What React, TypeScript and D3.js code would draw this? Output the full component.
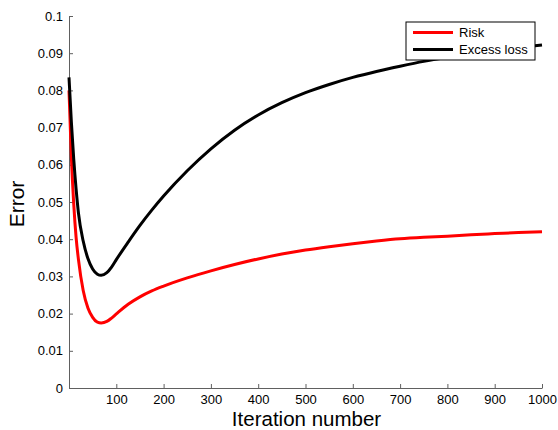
import React, { useEffect, useRef } from 'react';
import * as d3 from 'd3';

// iteration numbers and error values
const riskIters = [0, 5, 10, 15, 20, 30, 40, 50, 60, 68, 80, 90, 100, 125, 150, 175, 200, 250, 300, 350, 400, 450, 500, 550, 600, 650, 700, 750, 800, 850, 900, 950, 1000];
const riskValues = [0.08, 0.062, 0.0495, 0.0405, 0.0345, 0.0262, 0.0215, 0.019, 0.0177, 0.0175, 0.0179, 0.0188, 0.0199, 0.0225, 0.0245, 0.0261, 0.0274, 0.0296, 0.0315, 0.0332, 0.0347, 0.036, 0.0371, 0.038, 0.0388, 0.0395, 0.0401, 0.0405, 0.0408, 0.0412, 0.0415, 0.0418, 0.042];

const lossIters = [0, 5, 10, 15, 20, 30, 40, 50, 60, 68, 80, 90, 100, 125, 150, 175, 200, 250, 300, 350, 400, 450, 500, 550, 600, 650, 700, 750, 800, 850, 900, 950, 1000];
const lossValues = [0.0835, 0.0715, 0.0615, 0.0535, 0.047, 0.0395, 0.0348, 0.032, 0.0306, 0.0303, 0.031, 0.0325, 0.0345, 0.0392, 0.0437, 0.0478, 0.0516, 0.0584, 0.0643, 0.0693, 0.0734, 0.0767, 0.0794, 0.0816, 0.0835, 0.0851, 0.0865, 0.0878, 0.0889, 0.0899, 0.0908, 0.0915, 0.0922];

const xTicks = [100, 200, 300, 400, 500, 600, 700, 800, 900, 1000];
const yTicks = [0, 0.01, 0.02, 0.03, 0.04, 0.05, 0.06, 0.07, 0.08, 0.09, 0.1];

const legendLabels = ['Risk', 'Excess loss'];
const seriesColors = ['#ff0000', '#000000'];

const App = () => {
  const chartRef = useRef<SVGSVGElement | null>(null);

  useEffect(() => {
    const svg = d3.select(chartRef.current);
    svg.selectAll('*').remove();

    const margin = { top: 16, right: 16, bottom: 42, left: 69 };
    const width = 558 - margin.left - margin.right;
    const height = 430 - margin.top - margin.bottom;
    const font = '"Liberation Sans", Arial, Helvetica, sans-serif';

    const x = d3.scaleLinear().domain([0, 1000]).range([0, width]);
    const y = d3.scaleLinear().domain([0, 0.1]).range([height, 0]);

    const g = svg
      .append('g')
      .attr('transform', `translate(${margin.left},${margin.top})`)
      .style('font-family', font);

    // eje x, ticks hacia adentro
    const xAxis = g
      .append('g')
      .attr('transform', `translate(0,${height})`)
      .call(
        d3.axisBottom(x)
          .tickValues(xTicks)
          .tickSize(-4)
          .tickSizeOuter(0)
          .tickPadding(7)
          .tickFormat(d => String(d))
      );
    xAxis.select('.domain').attr('stroke', '#606060');
    xAxis.selectAll('.tick line').attr('stroke', '#606060');
    xAxis.selectAll('.tick text').style('font-size', '13px').attr('fill', '#000').style('font-family', font);

    // eje y
    const yAxis = g
      .append('g')
      .call(
        d3.axisLeft(y)
          .tickValues(yTicks)
          .tickSize(-4)
          .tickSizeOuter(0)
          .tickPadding(6)
          .tickFormat(d => String(+(+d).toFixed(2)))
      );
    yAxis.select('.domain').attr('stroke', '#606060');
    yAxis.selectAll('.tick line').attr('stroke', '#606060');
    yAxis.selectAll('.tick text').style('font-size', '13px').attr('fill', '#000').style('font-family', font);

    const line = d3
      .line<[number, number]>()
      .x(d => x(d[0]))
      .y(d => y(d[1]))
      .curve(d3.curveMonotoneX);

    const riskData = riskIters.map((t, i) => [t, riskValues[i]] as [number, number]);
    const lossData = lossIters.map((t, i) => [t, lossValues[i]] as [number, number]);

    g.append('path')
      .datum(riskData)
      .attr('fill', 'none')
      .attr('stroke', seriesColors[0])
      .attr('stroke-width', 3)
      .attr('d', line);

    g.append('path')
      .datum(lossData)
      .attr('fill', 'none')
      .attr('stroke', seriesColors[1])
      .attr('stroke-width', 3)
      .attr('d', line);

    // etiquetas de ejes
    g.append('text')
      .attr('x', width / 2 + 1)
      .attr('y', height + 37.5)
      .attr('text-anchor', 'middle')
      .style('font-size', '20.5px')
      .text('Iteration number');

    g.append('text')
      .attr('transform', 'rotate(-90)')
      .attr('x', -(height / 2) - 2)
      .attr('y', -45)
      .attr('text-anchor', 'middle')
      .style('font-size', '21px')
      .text('Error');

    // leyenda
    const legend = g.append('g').attr('transform', `translate(${406 - margin.left},${22 - margin.top})`);
    legend
      .append('rect')
      .attr('width', 129)
      .attr('height', 38)
      .attr('fill', '#fff')
      .attr('stroke', '#000')
      .attr('stroke-width', 1);

    const items = legend
      .selectAll('.legend-item')
      .data(legendLabels)
      .enter()
      .append('g')
      .attr('class', 'legend-item')
      .attr('transform', (d, i) => `translate(0,${10.5 + i * 17})`);

    items
      .append('line')
      .attr('x1', 7)
      .attr('x2', 47)
      .attr('stroke', (d, i) => seriesColors[i])
      .attr('stroke-width', 3);

    items
      .append('text')
      .attr('x', 53)
      .attr('dy', '0.36em')
      .style('font-size', '13px')
      .text(d => d);
  }, []);

  return (
    <svg
      ref={chartRef}
      width={558}
      height={430}
      style={{ position: 'absolute', left: 0, top: 0, background: '#fff' }}
    />
  );
};

export default App;
